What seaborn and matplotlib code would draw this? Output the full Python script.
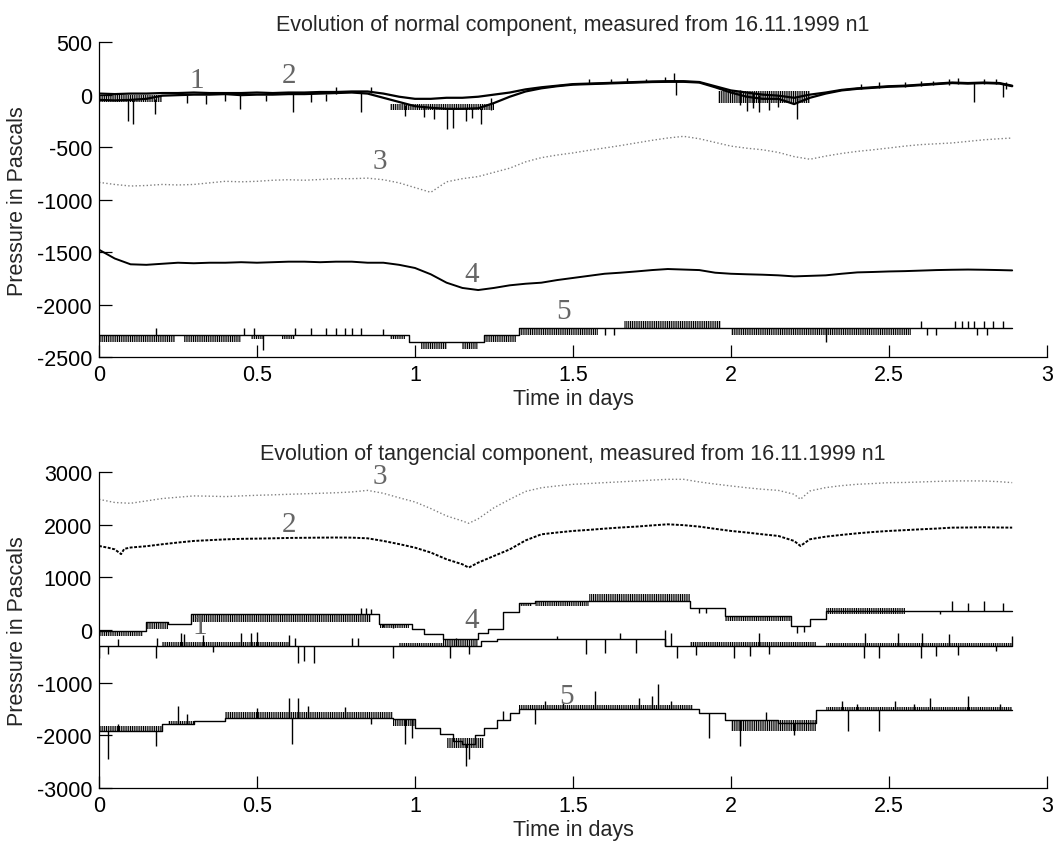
import matplotlib
matplotlib.use("Agg")
import matplotlib.pyplot as plt
import numpy as np
import seaborn as sns

# ---------------- top panel: normal component ----------------
n1_t = [0, 0.05, 0.1, 0.15, 0.2, 0.25, 0.3, 0.35, 0.4, 0.45, 0.5, 0.55, 0.6, 0.65, 0.7, 0.75, 0.8, 0.85,
        0.9, 0.95, 1.0, 1.05, 1.1, 1.15, 1.2, 1.25, 1.3, 1.35, 1.4, 1.45, 1.5, 1.55, 1.6, 1.65, 1.7, 1.75,
        1.8, 1.85, 1.9, 1.95, 2.0, 2.05, 2.1, 2.15, 2.2, 2.25, 2.3, 2.35, 2.4, 2.45, 2.5, 2.55, 2.6, 2.65,
        2.7, 2.75, 2.8, 2.85, 2.89]
n1_p = [-50, -55, -50, -40, -10, -5, 0, 0, 5, -5, 0, 0, 5, 5, 10, 15, 20, 10,
        -30, -70, -110, -125, -135, -135, -130, -80, -20, 30, 60, 80, 95, 100, 105, 110, 115, 120,
        122, 122, 115, 70, 20, -20, -40, -40, -90, -30, 10, 40, 55, 65, 75, 80, 90, 100,
        110, 105, 110, 105, 80]
n2_p = [10, 5, 10, 10, 15, 15, 20, 15, 15, 15, 20, 15, 20, 20, 25, 25, 30, 30,
        10, -20, -40, -40, -30, -30, -20, 0, 20, 50, 70, 85, 100, 105, 110, 115, 120, 125,
        128, 128, 120, 80, 40, 20, 0, -10, -30, 0, 20, 45, 60, 70, 80, 85, 95, 105,
        115, 110, 115, 110, 85]
n12_band_t0 = [0.00, 0.92, 1.96]
n12_band_t1 = [0.20, 1.25, 2.25]
n12_band_lo = [-70, -150, -80]
n12_band_hi = [0, -90, 30]
n12_sp_t = [0.093, 0.108, 0.177, 0.28, 0.34, 0.40, 0.446, 0.53, 0.615, 0.67, 0.72, 0.75, 0.83, 0.86, 0.97,
            1.03, 1.06, 1.10, 1.12, 1.16, 1.18, 1.21, 1.24, 1.55, 1.62, 1.67, 1.73, 1.79, 1.82, 1.825,
            2.03, 2.05, 2.07, 2.09, 2.12, 2.15, 2.21, 2.41, 2.47, 2.55, 2.60, 2.64, 2.69, 2.72, 2.77,
            2.80, 2.84, 2.86, 2.87]
n12_sp_lo = [-250, -280, -180, -80, -90, -60, -140, -60, -170, -70, -60, 10, -170, 20, -200,
             -210, -230, -330, -320, -250, -220, -280, -150, 110, 110, 115, 120, 125, 125, 0,
             -100, -160, -130, -170, -150, -120, -230, 50, 60, 70, 80, 90, 95, 100, -70,
             100, 100, -20, 50]
n12_sp_hi = [-50, -50, -40, 0, 0, 5, 0, 0, 20, 5, 10, 70, 20, 70, -100,
             -110, -120, -135, -135, -130, -130, -130, -30, 150, 150, 160, 150, 165, 208, 128,
             40, 20, 20, 0, 0, 0, -30, 100, 120, 120, 125, 130, 150, 160, 110,
             150, 145, 110, 120]

n3_t = [0, 0.05, 0.1, 0.15, 0.2, 0.25, 0.3, 0.35, 0.4, 0.45, 0.5, 0.55, 0.6, 0.65, 0.7, 0.75, 0.8, 0.85,
        0.9, 0.95, 1.0, 1.05, 1.1, 1.15, 1.2, 1.25, 1.3, 1.35, 1.4, 1.45, 1.5, 1.55, 1.6, 1.65, 1.7, 1.75,
        1.8, 1.85, 1.9, 1.95, 2.0, 2.05, 2.1, 2.15, 2.2, 2.25, 2.3, 2.35, 2.4, 2.45, 2.5, 2.55, 2.6, 2.65,
        2.7, 2.75, 2.8, 2.85, 2.89]
n3_p = [-835, -855, -870, -865, -855, -860, -855, -840, -825, -830, -825, -815, -810, -815, -808, -800, -800, -795,
        -810, -840, -885, -930, -830, -800, -780, -740, -700, -640, -600, -575, -555, -530, -508, -485, -460, -435,
        -413, -397, -420, -455, -490, -510, -525, -550, -590, -615, -585, -560, -540, -525, -508, -490, -476, -468,
        -460, -445, -430, -420, -413]

n4_p = [-1476, -1560, -1615, -1620, -1610, -1600, -1605, -1600, -1600, -1595, -1600, -1595, -1590, -1590, -1595,
        -1590, -1590, -1600, -1600, -1620, -1650, -1710, -1790, -1840, -1860, -1840, -1815, -1800, -1790, -1765,
        -1745, -1725, -1705, -1695, -1683, -1670, -1660, -1665, -1670, -1695, -1705, -1710, -1714, -1720, -1730,
        -1725, -1720, -1705, -1692, -1688, -1683, -1680, -1675, -1670, -1667, -1665, -1667, -1670, -1673]

n5_t = [0, 0.98, 1.22, 1.33, 2.89]
n5_p = [-2286, -2358, -2286, -2222, -2222]
n5_band_t0 = [0.00, 0.27, 0.48, 0.58, 0.92, 1.02, 1.15, 1.22, 1.33, 1.66, 2.00]
n5_band_t1 = [0.24, 0.45, 0.52, 0.62, 0.97, 1.10, 1.20, 1.32, 1.58, 1.97, 2.57]
n5_band_lo = [-2350, -2350, -2330, -2330, -2330, -2420, -2420, -2350, -2286, -2222, -2286]
n5_band_hi = [-2286, -2286, -2286, -2286, -2286, -2358, -2358, -2286, -2222, -2159, -2222]
n5_sp_t = [0.18, 0.46, 0.49, 0.52, 0.62, 0.67, 0.72, 0.75, 0.78, 0.80, 0.83, 0.90, 1.60, 1.63,
           2.30, 2.60, 2.62, 2.65, 2.71, 2.73, 2.75, 2.77, 2.78, 2.80, 2.81, 2.83, 2.86]
n5_sp_lo = [-2286, -2286, -2286, -2430, -2286, -2286, -2286, -2286, -2286, -2286, -2286, -2286, -2286, -2286,
            -2350, -2222, -2286, -2286, -2222, -2222, -2222, -2222, -2286, -2222, -2286, -2222, -2222]
n5_sp_hi = [-2222, -2222, -2222, -2286, -2222, -2222, -2222, -2222, -2222, -2222, -2222, -2235, -2222, -2222,
            -2222, -2159, -2222, -2222, -2159, -2159, -2159, -2159, -2222, -2159, -2222, -2159, -2159]

n_lab = ["1", "2", "3", "4", "5"]
n_lab_t = [0.31, 0.60, 0.89, 1.18, 1.47]
n_lab_p = [135, 190, -630, -1705, -2060]

# ---------------- bottom panel: tangential component ----------------
t1_t = [0, 1.21, 1.26, 1.79, 2.89]
t1_p = [-304, -210, -165, -304, -304]
t1_band_t0 = [0.20, 0.95, 1.87, 2.30]
t1_band_t1 = [0.60, 1.20, 2.27, 2.89]
t1_band_lo = [-304, -304, -304, -304]
t1_band_hi = [-235, -240, -235, -245]
t1_sp_t = [0.00, 0.03, 0.18, 0.36, 0.63, 0.65, 0.68, 0.93, 1.11, 1.17, 1.54, 1.60, 1.70, 1.83, 1.89, 2.01,
           2.06, 2.12, 2.42, 2.47, 2.60, 2.65, 2.72, 2.84,
           0.06, 0.185, 0.26, 0.27, 0.33, 0.45, 0.48, 0.50, 0.60, 0.62, 0.80, 0.82, 1.13, 1.45, 1.65, 1.79,
           1.81, 2.09, 2.425, 2.53, 2.605, 2.69, 2.89]
t1_sp_lo = [-525, -450, -525, -420, -620, -580, -620, -525, -525, -450, -462, -430, -430, -525, -480, -525,
            -500, -450, -525, -525, -525, -500, -480, -400,
            -304, -304, -304, -304, -304, -304, -304, -304, -304, -304, -304, -304, -304, -165, -165, -304,
            -304, -304, -304, -304, -304, -304, -304]
t1_sp_hi = [-304, -304, -304, -304, -304, -304, -304, -304, -304, -304, -165, -165, -165, -304, -304, -304,
            -304, -304, -304, -304, -304, -304, -304, -304,
            -177, -150, -50, -80, -100, -60, -60, -40, -100, -150, -150, -150, -150, -120, -50, 0,
            -50, -50, -50, -50, -50, -80, -120]

t2_t = [0, 0.03, 0.05, 0.07, 0.08, 0.1, 0.15, 0.2, 0.25, 0.3, 0.35, 0.4, 0.45, 0.5, 0.55, 0.6, 0.65, 0.7,
        0.75, 0.8, 0.85, 0.9, 0.95, 1.0, 1.05, 1.1, 1.15, 1.17, 1.2, 1.25, 1.3, 1.35, 1.4, 1.45, 1.5, 1.55,
        1.6, 1.65, 1.7, 1.75, 1.8, 1.85, 1.9, 1.95, 2.0, 2.05, 2.1, 2.15, 2.2, 2.22, 2.25, 2.3, 2.35, 2.4,
        2.45, 2.5, 2.55, 2.6, 2.65, 2.7, 2.75, 2.8, 2.85, 2.89]
t2_p = [1595, 1560, 1530, 1440, 1540, 1565, 1590, 1627, 1660, 1690, 1705, 1720, 1730, 1734, 1740, 1747, 1750, 1753,
        1755, 1753, 1740, 1690, 1630, 1563, 1470, 1342, 1247, 1184, 1278, 1405, 1530, 1700, 1816, 1850, 1880, 1900,
        1924, 1945, 1962, 1985, 2006, 1990, 1962, 1920, 1880, 1850, 1816, 1785, 1690, 1595, 1722, 1772, 1805, 1835,
        1860, 1880, 1895, 1911, 1925, 1943, 1945, 1950, 1945, 1943]

t3_t = [0, 0.05, 0.1, 0.15, 0.2, 0.25, 0.3, 0.35, 0.4, 0.45, 0.5, 0.55, 0.6, 0.65, 0.7, 0.75, 0.8, 0.85,
        0.9, 0.95, 1.0, 1.05, 1.1, 1.15, 1.17, 1.2, 1.25, 1.3, 1.35, 1.4, 1.45, 1.5, 1.55, 1.6, 1.65, 1.7,
        1.75, 1.8, 1.85, 1.9, 1.95, 2.0, 2.05, 2.1, 2.15, 2.2, 2.22, 2.25, 2.3, 2.35, 2.4, 2.45, 2.5, 2.55,
        2.6, 2.65, 2.7, 2.75, 2.8, 2.85, 2.89]
t3_p = [2480, 2420, 2405, 2450, 2495, 2520, 2545, 2540, 2532, 2545, 2557, 2565, 2576, 2585, 2595, 2605, 2620, 2650,
        2595, 2510, 2430, 2305, 2165, 2070, 2025, 2110, 2320, 2480, 2630, 2700, 2735, 2765, 2780, 2797, 2812, 2829,
        2845, 2860, 2860, 2810, 2770, 2734, 2700, 2671, 2650, 2576, 2481, 2639, 2703, 2740, 2766, 2780, 2797, 2800,
        2810, 2820, 2829, 2830, 2829, 2815, 2797]

t4_t = [0, 0.15, 0.22, 0.29, 0.885, 0.99, 1.03, 1.09, 1.20, 1.23, 1.28, 1.33, 1.38, 1.87, 1.98, 2.19, 2.25,
        2.30, 2.89]
t4_p = [-20, 150, 120, 300, 108, 13, -82, -177, -50, 13, 342, 519, 550, 420, 266, 76, 203, 361, 361]
t4_band_t0 = [0.00, 0.15, 0.29, 0.89, 1.09, 1.33, 1.38, 1.55, 1.98, 2.30]
t4_band_t1 = [0.14, 0.22, 0.86, 0.98, 1.20, 1.37, 1.55, 1.87, 2.19, 2.55]
t4_band_lo = [-110, 20, 160, 40, -240, 456, 456, 550, 171, 297]
t4_band_hi = [-20, 150, 300, 108, -177, 519, 550, 680, 266, 424]
t4_sp_t = [0.83, 0.845, 0.86, 0.90, 0.93, 1.90, 1.92, 2.21, 2.23, 2.66, 2.70, 2.75, 2.80, 2.86]
t4_sp_lo = [300, 300, 300, 50, 40, 330, 330, -50, -30, 300, 361, 361, 361, 361]
t4_sp_hi = [424, 420, 400, 108, 108, 420, 420, 76, 76, 361, 550, 520, 550, 520]

t5_t = [0, 0.20, 0.30, 0.40, 0.93, 1.00, 1.08, 1.12, 1.15, 1.19, 1.22, 1.26, 1.30, 1.33, 1.90, 1.98, 2.15,
        2.27, 2.89]
t5_p = [-1918, -1791, -1730, -1665, -1696, -1854, -1981, -2100, -2171, -2000, -1854, -1700, -1570, -1506,
        -1570, -1700, -1760, -1519, -1519]
t5_band_t0 = [0.00, 0.22, 0.40, 0.93, 1.10, 1.33, 2.00, 2.30]
t5_band_t1 = [0.20, 0.30, 0.93, 1.00, 1.22, 1.88, 2.27, 2.89]
t5_band_lo = [-1918, -1791, -1665, -1823, -2250, -1506, -1918, -1519]
t5_band_hi = [-1830, -1720, -1560, -1696, -2050, -1420, -1700, -1460]
t5_sp_t = [0.03, 0.06, 0.18, 0.25, 0.28, 0.50, 0.60, 0.61, 0.63, 0.66, 0.78, 0.86, 0.97, 0.99, 1.16, 1.17,
           1.28, 1.38, 1.41, 1.47, 1.57, 1.71, 1.75, 1.77, 1.81, 1.93, 2.03, 2.11, 2.20, 2.35, 2.37, 2.40,
           2.47, 2.52, 2.58, 2.63, 2.75, 2.85]
t5_sp_lo = [-2456, -1918, -2203, -1791, -1791, -1665, -1665, -2171, -1665, -1665, -1665, -1780, -2171, -2050,
            -2582, -2450, -1700, -1791, -1506, -1506, -1506, -1506, -1506, -1506, -1506, -2044, -2203, -1700,
            -2000, -1519, -1918, -1519, -1918, -1519, -1519, -1519, -1519, -1519]
t5_sp_hi = [-1918, -1780, -1918, -1443, -1600, -1480, -1285, -1665, -1285, -1450, -1470, -1665, -1696, -1696,
            -2171, -2171, -1530, -1506, -1350, -1380, -1158, -1300, -1250, -1032, -1350, -1570, -1700, -1550,
            -1760, -1350, -1519, -1400, -1519, -1350, -1400, -1300, -1250, -1400]

t_lab = ["1", "2", "3", "4", "5"]
t_lab_t = [0.32, 0.60, 0.89, 1.18, 1.48]
t_lab_p = [80, 2010, 2920, 180, -1245]

x_ticks = [0, 0.5, 1, 1.5, 2, 2.5, 3]
x_tick_labels = ["0", "0.5", "1", "1.5", "2", "2.5", "3"]
top_y_ticks = [-2500, -2000, -1500, -1000, -500, 0, 500]
bot_y_ticks = [-3000, -2000, -1000, 0, 1000, 2000, 3000]

sns.set_style("ticks")
plt.rcParams["font.family"] = ["Liberation Sans", "DejaVu Sans"]
plt.rcParams["xtick.direction"] = "in"
plt.rcParams["ytick.direction"] = "in"
plt.rcParams["hatch.linewidth"] = 0.8
plt.rcParams["hatch.color"] = "black"

FS = 15.5
LABEL_FONT = ["Liberation Serif", "DejaVu Serif"]


def line(ax, t, p, color="k", lw=1.1, ls="-", step=False):
    kw = {"drawstyle": "steps-post"} if step else {}
    sns.lineplot(x=t, y=p, ax=ax, color=color, linewidth=lw, linestyle=ls,
                 estimator=None, sort=False, legend=False, **kw)


def spikes(ax, t, lo, hi):
    ax.vlines(t, lo, hi, colors="k", linewidth=1.0)


def bands(ax, t0, t1, lo, hi):
    for a, b, l, h in zip(t0, t1, lo, hi):
        ax.fill_between([a, b], [l, l], [h, h], facecolor="none", edgecolor="k",
                        hatch="|" * 9, linewidth=0)


def style_axes(ax, yticks, title):
    ax.set_xlim(0, 3)
    ax.set_ylim(yticks[0], yticks[-1])
    ax.set_xticks(x_ticks)
    ax.set_xticklabels(x_tick_labels)
    ax.set_yticks(yticks)
    ax.set_yticklabels([str(v) for v in yticks])
    ax.tick_params(length=9, width=0.9, labelsize=FS, colors="k", pad=5)
    for side in ("top", "right"):
        ax.spines[side].set_visible(False)
    for side in ("left", "bottom"):
        ax.spines[side].set_linewidth(0.9)
        ax.spines[side].set_color("k")
    ax.set_xlabel("Time in days", fontsize=FS, labelpad=2)
    ax.set_ylabel("Pressure in Pascals", fontsize=FS, labelpad=6)
    ax.set_title(title, fontsize=FS, pad=9)


fig = plt.figure(figsize=(10.54, 8.45), dpi=100)
ax_top = fig.add_axes([0.0939, 0.576, 0.8994, 0.373])
ax_bot = fig.add_axes([0.0939, 0.0663, 0.8994, 0.374])

# top panel
line(ax_top, n3_t, n3_p, color="0.5", lw=1.0, ls=":")
line(ax_top, n1_t, n1_p, lw=1.6)
line(ax_top, n1_t, n2_p, lw=1.6)
bands(ax_top, n12_band_t0, n12_band_t1, n12_band_lo, n12_band_hi)
spikes(ax_top, n12_sp_t, n12_sp_lo, n12_sp_hi)
line(ax_top, n3_t, n4_p, lw=1.4)
line(ax_top, n5_t, n5_p, lw=1.0, step=True)
bands(ax_top, n5_band_t0, n5_band_t1, n5_band_lo, n5_band_hi)
spikes(ax_top, n5_sp_t, n5_sp_lo, n5_sp_hi)
for s, x, y in zip(n_lab, n_lab_t, n_lab_p):
    ax_top.text(x, y, s, fontsize=21, color="0.4", family=LABEL_FONT, ha="center", va="center")
style_axes(ax_top, top_y_ticks, "Evolution of normal component, measured from 16.11.1999 n1")

# bottom panel
line(ax_bot, t3_t, t3_p, color="0.5", lw=1.0, ls=":")
line(ax_bot, t2_t, t2_p, lw=1.4, ls=(0, (1.5, 0.8)))
line(ax_bot, t1_t, t1_p, lw=1.0, step=True)
bands(ax_bot, t1_band_t0, t1_band_t1, t1_band_lo, t1_band_hi)
spikes(ax_bot, t1_sp_t, t1_sp_lo, t1_sp_hi)
line(ax_bot, t4_t, t4_p, lw=1.0, step=True)
bands(ax_bot, t4_band_t0, t4_band_t1, t4_band_lo, t4_band_hi)
spikes(ax_bot, t4_sp_t, t4_sp_lo, t4_sp_hi)
line(ax_bot, t5_t, t5_p, lw=1.0, step=True)
bands(ax_bot, t5_band_t0, t5_band_t1, t5_band_lo, t5_band_hi)
spikes(ax_bot, t5_sp_t, t5_sp_lo, t5_sp_hi)
for s, x, y in zip(t_lab, t_lab_t, t_lab_p):
    ax_bot.text(x, y, s, fontsize=21, color="0.4", family=LABEL_FONT, ha="center", va="center")
style_axes(ax_bot, bot_y_ticks, "Evolution of tangencial component, measured from 16.11.1999 n1")

fig.savefig("out.png", dpi=100)
